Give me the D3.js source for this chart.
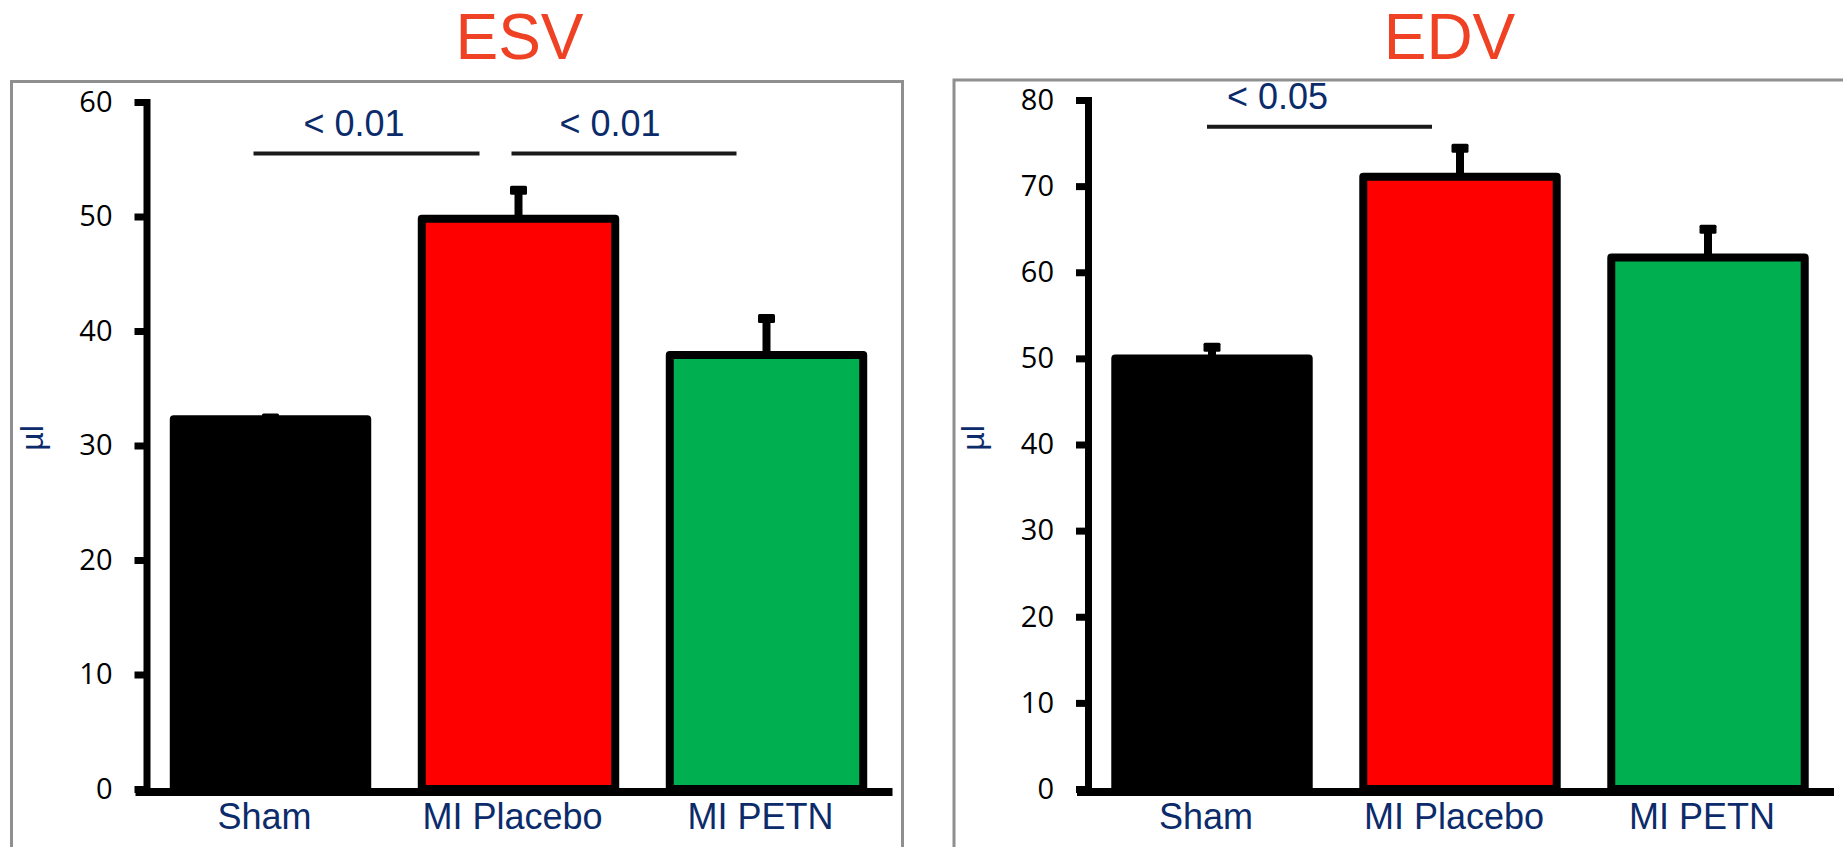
<!DOCTYPE html>
<html>
<head>
<meta charset="utf-8">
<script src="https://cdn.jsdelivr.net/npm/d3@7"></script>
<style>
  html, body { margin: 0; padding: 0; background: #fff; }
  svg { display: block; }
</style>
</head>
<body>
<svg id="chart" width="1843" height="847"></svg>
<script>
// Groups shared by both panels
const groups = ["Sham", "MI Placebo", "MI PETN"];
const groupColors = ["#000000", "#ff0000", "#00b050"];

// End-systolic volume (µl): mean and SEM
const esvMean = [32.3, 49.8, 37.9];
const esvErr = [0.1, 2.5, 3.2];
const esvTicks = [0, 10, 20, 30, 40, 50, 60];

// End-diastolic volume (µl): mean and SEM
const edvMean = [50.0, 71.1, 61.7];
const edvErr = [1.3, 3.3, 3.3];
const edvTicks = [0, 10, 20, 30, 40, 50, 60, 70, 80];

// Pairwise comparisons: [from group, to group, p-value text, bracket level in µl]
const esvComparisons = [
  ["Sham", "MI Placebo", "< 0.01", 55.5],
  ["MI Placebo", "MI PETN", "< 0.01", 55.5]
];
const edvComparisons = [
  ["Sham", "MI Placebo", "< 0.05", 76.9]
];

const NAVY = "#0c2b6b";
const TITLE_RED = "#ef4123";

const svg = d3.select("#chart");

const panels = [
  {
    title: "ESV", mean: esvMean, err: esvErr, ticks: esvTicks, max: 60,
    comparisons: esvComparisons,
    box: { x: 11.5, y: 81.5, w: 891, h: 800 },
    axisX: 146.5, yTop: 102, titleX: 519.5,
    bracketInset: [[-17, -39], [-7, -30]], labelShift: [50, 48]
  },
  {
    title: "EDV", mean: edvMean, err: edvErr, ticks: edvTicks, max: 80,
    comparisons: edvComparisons,
    box: { x: 954, y: 80, w: 900, h: 800 },
    axisX: 1088, yTop: 100, titleX: 1449.5,
    bracketInset: [[-5, -28]], labelShift: [20]
  }
];

const Y0 = 789;          // pixel row of the zero line
const RANGE_W = 744;     // width of the category band range

panels.forEach(p => {
  const g = svg.append("g");

  // panel frame
  g.append("rect")
    .attr("x", p.box.x).attr("y", p.box.y)
    .attr("width", p.box.w).attr("height", p.box.h)
    .attr("fill", "none").attr("stroke", "#8f8f8f").attr("stroke-width", 3);

  const x = d3.scaleBand()
    .domain(groups)
    .range([p.axisX, p.axisX + RANGE_W])
    .paddingInner(0.22)
    .paddingOuter(0.11);

  const y = d3.scaleLinear().domain([0, p.max]).range([Y0, p.yTop]);

  // title
  g.append("text")
    .attr("x", p.titleX).attr("y", 59)
    .attr("text-anchor", "middle")
    .attr("font-family", "Liberation Sans, Arial, sans-serif")
    .attr("font-size", 64)
    .attr("fill", TITLE_RED)
    .text(p.title);

  // bars
  g.selectAll("rect.bar")
    .data(groups)
    .join("rect")
    .attr("class", "bar")
    .attr("x", d => x(d))
    .attr("width", x.bandwidth())
    .attr("y", (d, i) => y(p.mean[i]))
    .attr("height", (d, i) => y(0) - y(p.mean[i]))
    .attr("fill", (d, i) => groupColors[i])
    .attr("stroke", "#000")
    .attr("stroke-width", 8)
    .attr("stroke-linejoin", "round");

  // error bars (upper whisker only)
  const eb = g.selectAll("g.err")
    .data(groups)
    .join("g")
    .attr("class", "err")
    .attr("transform", d => `translate(${x(d) + x.bandwidth() / 2},0)`);
  eb.append("line")
    .attr("x1", 0).attr("x2", 0)
    .attr("y1", (d, i) => y(p.mean[i]))
    .attr("y2", (d, i) => y(p.mean[i] + p.err[i]))
    .attr("stroke", "#000").attr("stroke-width", 8);
  eb.append("rect")
    .attr("x", -8.5).attr("width", 17)
    .attr("y", (d, i) => y(p.mean[i] + p.err[i]) - 4.5)
    .attr("height", 9)
    .attr("rx", 1.5)
    .attr("fill", "#000");

  // y axis
  const yAxis = g.append("g")
    .attr("transform", `translate(${p.axisX},0)`)
    .call(d3.axisLeft(y).tickValues(p.ticks).tickSize(12).tickSizeOuter(0).tickPadding(22));
  yAxis.select(".domain").attr("stroke", "#000").attr("stroke-width", 7).attr("stroke-linecap", "square");
  yAxis.selectAll(".tick line").attr("stroke", "#000").attr("stroke-width", 7);
  yAxis.selectAll(".tick text")
    .attr("font-family", "Open Sans, sans-serif")
    .attr("font-size", 29)
    .attr("fill", "#000");

  // x baseline
  g.append("line")
    .attr("x1", p.axisX - 11).attr("x2", p.axisX + RANGE_W + 2)
    .attr("y1", Y0 + 3).attr("y2", Y0 + 3)
    .attr("stroke", "#000").attr("stroke-width", 8);

  // category labels
  const xAxis = g.append("g")
    .attr("transform", `translate(-6,${Y0})`)
    .call(d3.axisBottom(x).tickSize(0).tickPadding(0));
  xAxis.select(".domain").remove();
  xAxis.selectAll(".tick text")
    .attr("y", 40).attr("dy", 0)
    .attr("font-family", "Liberation Sans, Arial, sans-serif")
    .attr("font-size", 36)
    .attr("fill", NAVY);

  // y axis unit
  g.append("text")
    .attr("transform", `translate(${p.axisX - 104},${438}) rotate(-90)`)
    .attr("text-anchor", "middle")
    .attr("font-family", "Liberation Sans, Arial, sans-serif")
    .attr("font-size", 32)
    .attr("fill", NAVY)
    .text("µl");

  // significance brackets
  p.comparisons.forEach((c, k) => {
    const x1 = x(c[0]) + x.bandwidth() / 2 + p.bracketInset[k][0];
    const x2 = x(c[1]) + x.bandwidth() / 2 + p.bracketInset[k][1];
    const yl = y(c[3]);
    g.append("line")
      .attr("x1", x1).attr("x2", x2)
      .attr("y1", yl).attr("y2", yl)
      .attr("stroke", "#1a1a1a").attr("stroke-width", 4);
    g.append("text")
      .attr("x", x1 + p.labelShift[k])
      .attr("y", yl - 18)
      .attr("font-family", "Liberation Sans, Arial, sans-serif")
      .attr("font-size", 36)
      .attr("fill", NAVY)
      .text(c[2]);
  });
});
</script>
</body>
</html>
